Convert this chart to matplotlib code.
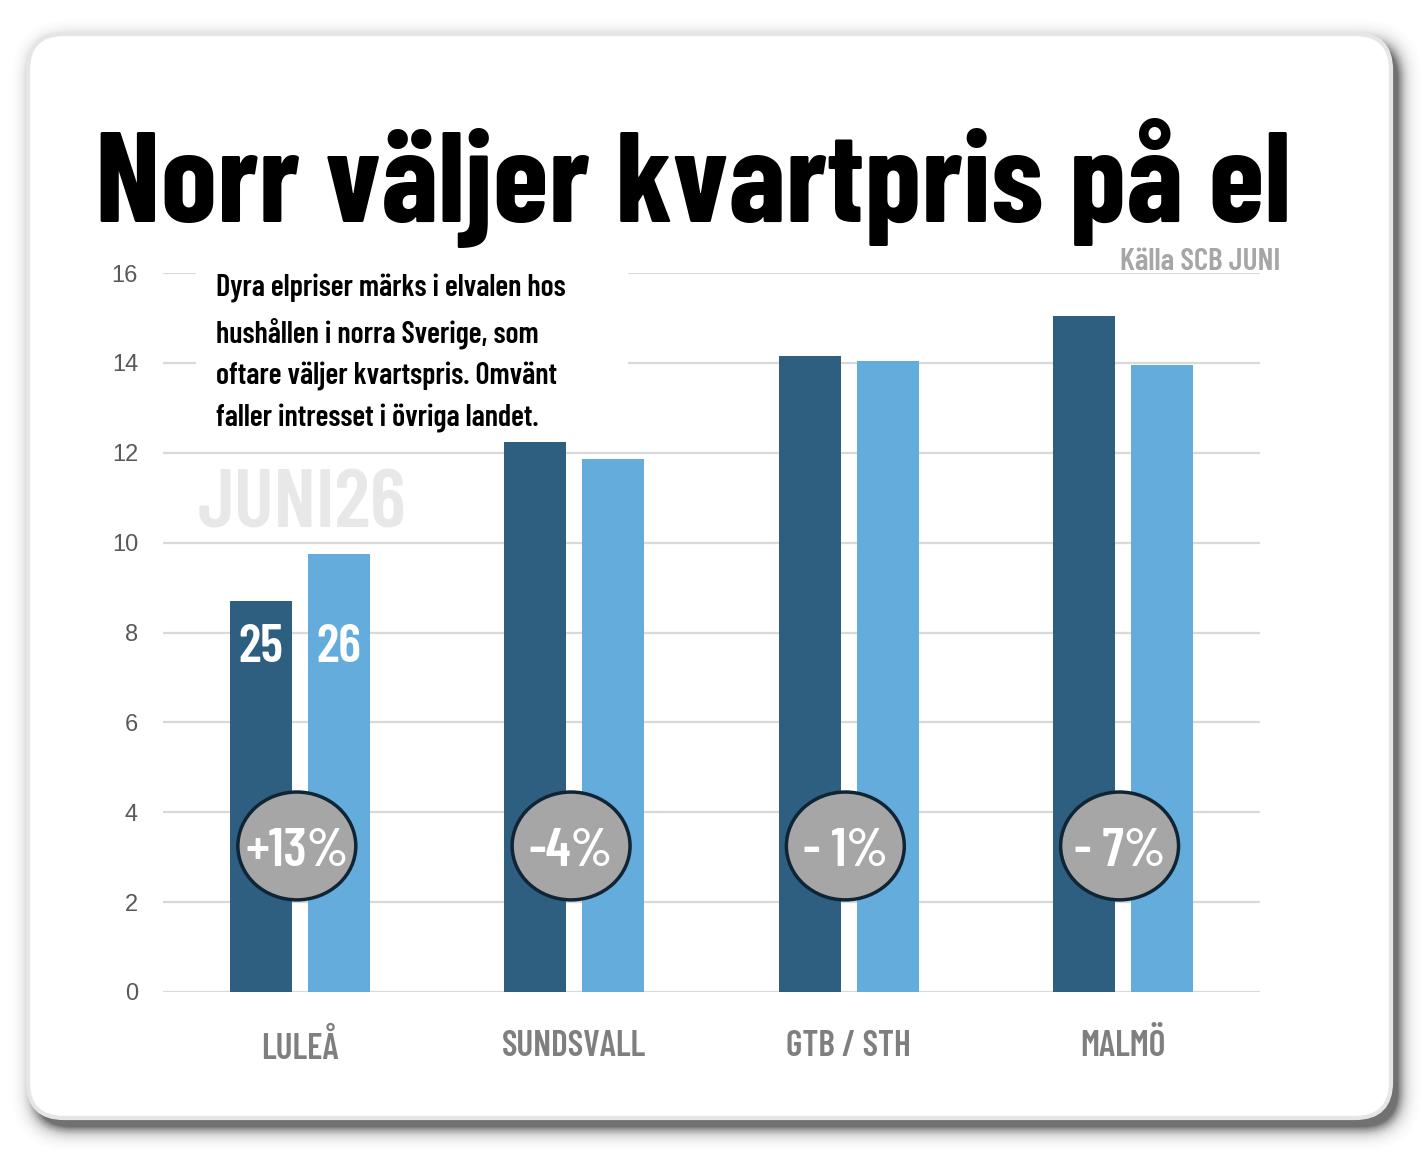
import matplotlib
matplotlib.use("Agg")
import numpy as np
import matplotlib.pyplot as plt
from matplotlib.patches import FancyBboxPatch, Ellipse, Rectangle

cities = ["LULEÅ", "SUNDSVALL", "GTB / STH", "MALMÖ"]
share_25 = [8.7, 12.25, 14.15, 15.05]
share_26 = [9.75, 11.85, 14.05, 13.95]
changes = ["+13%", "-4%", "- 1%", "- 7%"]
yticks = [0, 2, 4, 6, 8, 10, 12, 14, 16]

COND = ["Barlow Condensed", "DejaVu Sans"]
DARK = "#2e5f80"
LIGHT = "#64acdb"

W, H = 1422, 1152
fig = plt.figure(figsize=(W / 100, H / 100), dpi=100)
fig.patch.set_facecolor("white")

# background layer in pixel units (y down)
bg = fig.add_axes([0, 0, 1, 1])
bg.set_xlim(0, W)
bg.set_ylim(H, 0)
bg.axis("off")

x0, y0, x1, y1, r = 28, 34, 1391, 1118, 36
dx, dy = 7, 9
for k in range(26):
    a = 0.11 * np.exp(-k / 6)
    bg.add_patch(FancyBboxPatch((x0 + dx - k, y0 + dy - k), x1 - x0 + 2 * k, y1 - y0 + 2 * k,
                                boxstyle=f"round,pad=0,rounding_size={r + k}",
                                fc="black", ec="none", alpha=a, zorder=0))
bg.add_patch(FancyBboxPatch((x0, y0), x1 - x0, y1 - y0,
                            boxstyle=f"round,pad=0,rounding_size={r}",
                            fc="white", ec="#e6e6e6", lw=3, zorder=1))

ax = fig.add_axes([163 / W, 1 - 992 / H, (1260 - 163) / W, (992 - 273) / H])
ax.set_facecolor("none")

x = np.arange(len(cities))
off = 0.142
bw = 0.226
ax.bar(x - off, share_25, width=bw, color=DARK, zorder=3)
ax.bar(x + off, share_26, width=bw, color=LIGHT, zorder=3)

ax.set_xlim(-0.5, 3.5)
ax.set_ylim(0, 16)
ax.set_yticks(yticks)
ax.set_yticklabels([str(v) for v in yticks], fontsize=17, color="#595959",
                   family=["Liberation Sans", "DejaVu Sans"])
ax.tick_params(axis="y", length=0, pad=18)
ax.set_xticks(x)
ax.set_xticklabels(cities, family=COND, fontweight=600, fontsize=25.5, color="#7f7f7f")
ax.tick_params(axis="x", length=0, pad=27)
ax.grid(axis="y", color="#d9d9d9", lw=1.6, zorder=0)
ax.set_axisbelow(True)
for s in ax.spines.values():
    s.set_visible(False)

# white box behind intro text (breaks gridlines) + watermark
ax.add_patch(Rectangle((196, 258), 432, 182, transform=bg.transData,
                       fc="white", ec="none", zorder=1))
ax.text(198, 527, "JUNI26", transform=bg.transData, ha="left", va="baseline",
        family=COND, fontweight=600, fontsize=60, color="#e8e8e8", zorder=1)
ax.text(216, 274,
        "Dyra elpriser märks i elvalen hos\nhushållen i norra Sverige, som\n"
        "oftare väljer kvartspris. Omvänt\nfaller intresset i övriga landet.",
        transform=bg.transData, clip_on=False,
        ha="left", va="top", family=COND, fontweight=600, fontsize=21.7,
        linespacing=1.58, color="black", zorder=10)

# bar year labels
ax.text(0 - off, 7.34, "25", ha="center", va="baseline", color="white",
        family=COND, fontweight=600, fontsize=38, zorder=5)
ax.text(0 + off, 7.34, "26", ha="center", va="baseline", color="white",
        family=COND, fontweight=600, fontsize=38, zorder=5)

# change ellipses
for i, c in enumerate(changes):
    ax.add_patch(Ellipse((i - 0.012, 3.25), 0.43, 2.4, fc="#a6a6a6", ec="#0f2535",
                         lw=2.5, zorder=6))
    ax.text(i - 0.012, 2.8, c, ha="center", va="baseline", color="white",
            family=COND, fontweight=600, fontsize=39, zorder=7)

bg.text(95, 222, "Norr väljer kvartpris på el", ha="left", va="baseline",
        family=COND, fontweight=700, fontsize=92, color="black", zorder=10)
bg.text(1280, 270, "Källa SCB JUNI", ha="right", va="baseline",
        family=COND, fontweight=600, fontsize=22.5, color="#a6a6a6", zorder=10)

fig.savefig("out.png", dpi=100, facecolor="white")
